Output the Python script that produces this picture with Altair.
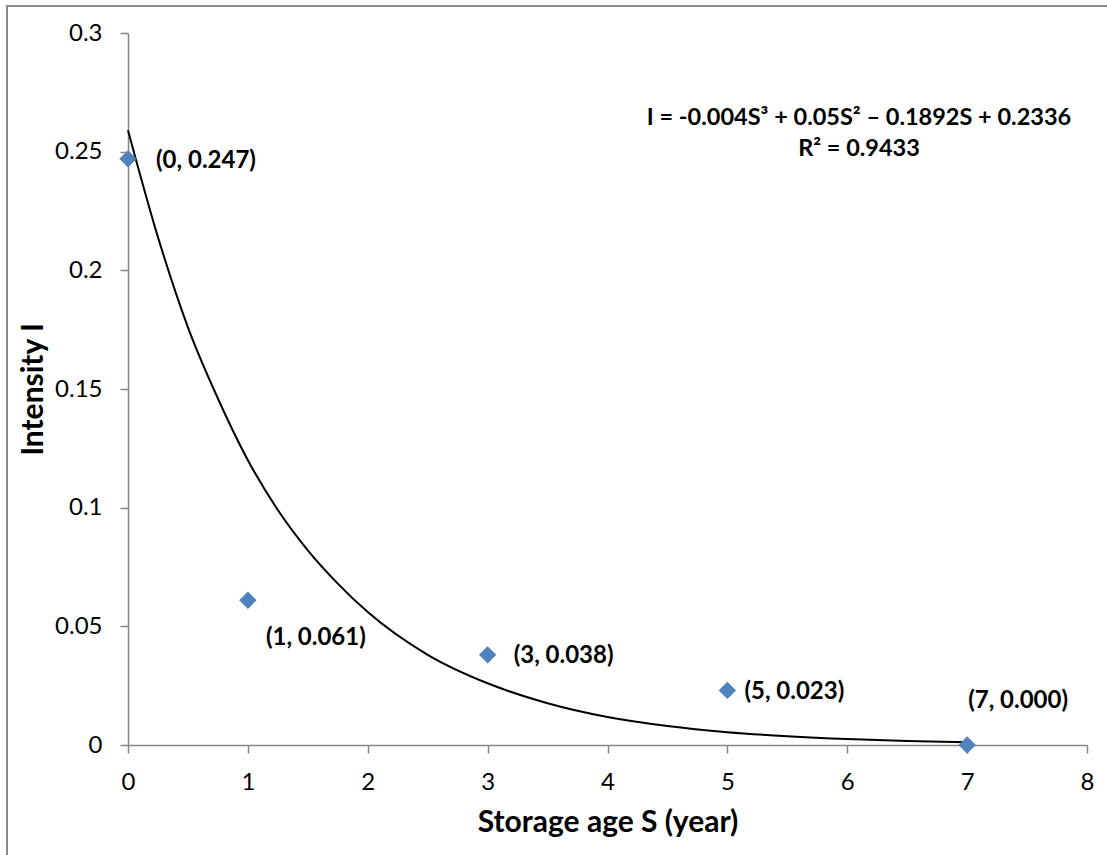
import altair as alt
import pandas as pd

# Measured intensity at each storage age
storage_age = [0, 1, 3, 5, 7]
intensity = [0.247, 0.061, 0.038, 0.023, 0.000]

# Trend curve, sampled along its path
curve_s = [0.0, 0.25, 0.5, 0.75, 1.0, 1.25, 1.5, 1.75, 2.0, 2.5,
           3.0, 3.5, 4.0, 4.5, 5.0, 5.5, 6.0, 6.5, 7.0]
curve_i = [0.259, 0.214, 0.176, 0.146, 0.120, 0.099, 0.082, 0.068, 0.056, 0.038,
           0.026, 0.0176, 0.0118, 0.0080, 0.0054, 0.0037, 0.0025, 0.0017, 0.0012]

x_ticks = [0, 1, 2, 3, 4, 5, 6, 7, 8]
y_ticks = [0, 0.05, 0.1, 0.15, 0.2, 0.25, 0.3]

equation_lines = ["I = -0.004S\u00b3 + 0.05S\u00b2 \u2013 0.1892S + 0.2336", "R\u00b2 = 0.9433"]

# label placement relative to each marker (dx, dy)
label_offsets = {0: (28, 2), 1: (18, 38), 3: (26, 1), 5: (17, 2), 7: (1, -44)}

FONT = "Lato"
AXIS_GRAY = "#868686"
MARKER_BLUE = "#4F81BD"

W, H = 959, 712

points = pd.DataFrame({"S": storage_age, "I": intensity})
points["label"] = [f"({s}, {i:.3f})" for s, i in zip(storage_age, intensity)]
curve = pd.DataFrame({"S": curve_s, "I": curve_i})

x_scale = alt.Scale(domain=[0, 8], nice=False, zero=False)
y_scale = alt.Scale(domain=[0, 0.3], nice=False)

x_axis = alt.Axis(
    title="Storage age S (year)", values=x_ticks, format="d", grid=False,
    domainColor=AXIS_GRAY, domainWidth=1.5, tickColor=AXIS_GRAY, tickWidth=1.5,
    tickSize=8, labelFont=FONT, labelFontSize=24, labelColor="black",
    labelBaseline="alphabetic", labelPadding=36, labelFlush=False,
    titleFont=FONT, titleFontSize=30, titleFontWeight="bold", titleColor="black",
    titleBaseline="alphabetic", titleY=86,
)
y_axis = alt.Axis(
    title="Intensity I", values=y_ticks, format="~g", grid=False,
    domainColor=AXIS_GRAY, domainWidth=1.5, tickColor=AXIS_GRAY, tickWidth=1.5,
    tickSize=8, labelFont=FONT, labelFontSize=24, labelColor="black",
    labelPadding=18, labelFlush=False,
    titleFont=FONT, titleFontSize=30, titleFontWeight="bold", titleColor="black",
    titleBaseline="alphabetic", titleX=-86, titleAngle=-90,
)

frame = alt.Chart(pd.DataFrame({"k": [0]})).mark_rect(
    fill=None, stroke="#8c8c8c", strokeWidth=2
).encode(
    x=alt.value(-121), x2=alt.value(1100), y=alt.value(-27), y2=alt.value(900)
)

trend = alt.Chart(curve).mark_line(
    color="black", strokeWidth=2, interpolate="monotone"
).encode(
    x=alt.X("S:Q", scale=x_scale, axis=x_axis),
    y=alt.Y("I:Q", scale=y_scale, axis=y_axis),
)

markers = alt.Chart(points).mark_point(
    shape="diamond", filled=True, size=300, color=MARKER_BLUE, opacity=1
).encode(
    x=alt.X("S:Q", scale=x_scale),
    y=alt.Y("I:Q", scale=y_scale),
)

label_layers = []
for s, (dx, dy) in label_offsets.items():
    label_layers.append(
        alt.Chart(points).transform_filter(alt.datum.S == s).mark_text(
            align="left", baseline="middle", dx=dx, dy=dy,
            font=FONT, fontSize=24, fontWeight="bold", color="black",
        ).encode(
            x=alt.X("S:Q", scale=x_scale),
            y=alt.Y("I:Q", scale=y_scale),
            text="label:N",
        )
    )

eq_layers = []
for line, ypos in zip(equation_lines, [84.5, 116]):
    eq_layers.append(
        alt.Chart(pd.DataFrame({"k": [0]})).mark_text(
            align="center", baseline="middle", font=FONT, fontSize=23.5,
            fontWeight="bold", color="black",
        ).encode(x=alt.value(731), y=alt.value(ypos), text=alt.value(line))
    )

chart = alt.layer(frame, trend, markers, *label_layers, *eq_layers).properties(
    width=W, height=H,
    autosize=alt.AutoSizeParams(type="none"),
    padding={"left": 128, "top": 33, "right": 20, "bottom": 110},
    background="white",
).configure_view(stroke=None)

chart.save("out.html", embed_options={"renderer": "svg", "actions": False})
